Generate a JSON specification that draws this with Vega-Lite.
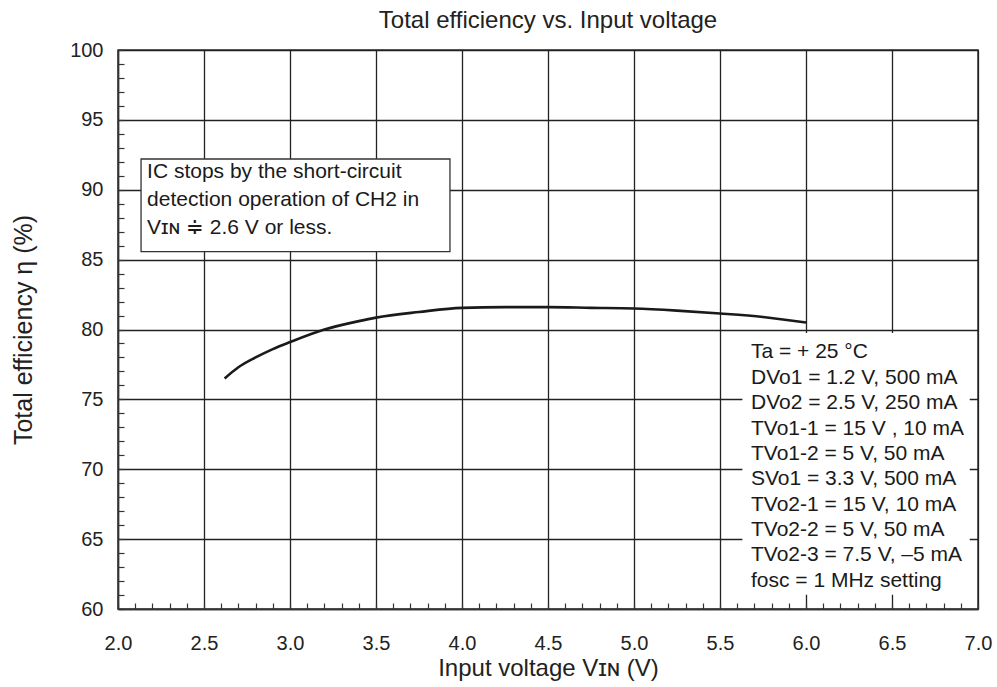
{
  "$schema": "https://vega.github.io/schema/vega-lite/v6.json",
  "width": 860,
  "height": 559,
  "autosize": "none",
  "padding": {"left": 118, "top": 50, "right": 19, "bottom": 78},
  "background": "white",
  "config": {
    "font": "Liberation Sans",
    "view": {"stroke": "#333333", "strokeWidth": 1.5},
    "axis": {
      "domainColor": "#333333",
      "domainWidth": 1.5,
      "gridColor": "#222222",
      "gridWidth": 1.3,
      "tickColor": "#333333",
      "tickWidth": 1.2,
      "labelFont": "Liberation Sans",
      "labelFontSize": 20,
      "labelColor": "#222222",
      "titleFont": "Liberation Sans",
      "titleFontWeight": "normal",
      "titleColor": "#222222"
    }
  },
  "title": {
    "text": "Total efficiency vs. Input voltage",
    "font": "Liberation Sans",
    "fontSize": 24,
    "fontWeight": "normal",
    "color": "#222222",
    "anchor": "middle",
    "offset": 7
  },
  "datasets": {
    "curve": [
      {"vin": 2.62, "eff": 76.5},
      {"vin": 2.7, "eff": 77.3},
      {"vin": 2.8, "eff": 78.0},
      {"vin": 2.9, "eff": 78.6},
      {"vin": 3.0, "eff": 79.1},
      {"vin": 3.2, "eff": 80.0},
      {"vin": 3.4, "eff": 80.6},
      {"vin": 3.5, "eff": 80.85},
      {"vin": 3.75, "eff": 81.25},
      {"vin": 4.0, "eff": 81.55},
      {"vin": 4.25, "eff": 81.6},
      {"vin": 4.5, "eff": 81.6},
      {"vin": 4.75, "eff": 81.55},
      {"vin": 5.0, "eff": 81.5},
      {"vin": 5.25, "eff": 81.35},
      {"vin": 5.5, "eff": 81.15},
      {"vin": 5.75, "eff": 80.9},
      {"vin": 6.0, "eff": 80.5}
    ],
    "boxes": [
      {"x1": 2.134, "x2": 3.93, "y1": 85.57, "y2": 92.2, "edge": "#333333"},
      {"x1": 5.634, "x2": 6.948, "y1": 61.07, "y2": 79.71, "edge": "white"}
    ],
    "notes": [
      {"x": 2.169, "y": 91.29, "text": "IC stops by the short-circuit"},
      {"x": 2.169, "y": 89.29, "text": "detection operation of CH2 in"},
      {"x": 2.169, "y": 87.29, "text": "Vɪɴ ≑ 2.6 V or less."},
      {"x": 5.68, "y": 78.36, "text": "Ta = + 25 °C"},
      {"x": 5.68, "y": 76.54, "text": "DVo1 = 1.2 V, 500 mA"},
      {"x": 5.68, "y": 74.73, "text": "DVo2 = 2.5 V, 250 mA"},
      {"x": 5.68, "y": 72.91, "text": "TVo1-1 = 15 V , 10 mA"},
      {"x": 5.68, "y": 71.10, "text": "TVo1-2 = 5 V, 50 mA"},
      {"x": 5.68, "y": 69.29, "text": "SVo1 = 3.3 V, 500 mA"},
      {"x": 5.68, "y": 67.47, "text": "TVo2-1 = 15 V, 10 mA"},
      {"x": 5.68, "y": 65.66, "text": "TVo2-2 = 5 V, 50 mA"},
      {"x": 5.68, "y": 63.84, "text": "TVo2-3 = 7.5 V, –5 mA"},
      {"x": 5.68, "y": 62.03, "text": "fosc = 1 MHz setting"}
    ]
  },
  "layer": [
    {
      "data": {"name": "curve"},
      "mark": {"type": "line", "interpolate": "monotone", "color": "#1a1a1a", "strokeWidth": 2.6},
      "encoding": {
        "x": {
          "field": "vin",
          "type": "quantitative",
          "scale": {"domain": [2, 7], "nice": false, "zero": false},
          "axis": {
            "title": "Input voltage Vɪɴ (V)",
            "titleFontSize": 24,
            "titlePadding": 3,
            "tickCount": 200,
            "values": [2.0, 2.1, 2.2, 2.3, 2.4, 2.5, 2.6, 2.7, 2.8, 2.9, 3.0, 3.1, 3.2, 3.3, 3.4, 3.5, 3.6, 3.7, 3.8, 3.9, 4.0, 4.1, 4.2, 4.3, 4.4, 4.5, 4.6, 4.7, 4.8, 4.9, 5.0, 5.1, 5.2, 5.3, 5.4, 5.5, 5.6, 5.7, 5.8, 5.9, 6.0, 6.1, 6.2, 6.3, 6.4, 6.5, 6.6, 6.7, 6.8, 6.9, 7.0],
            "labelExpr": "abs(datum.value * 2 - round(datum.value * 2)) < 0.001 ? format(datum.value, '.1f') : ''",
            "grid": true,
            "gridOpacity": {"condition": {"test": "abs(datum.value * 2 - round(datum.value * 2)) < 0.001", "value": 1}, "value": 0},
            "tickSize": -6,
            "labelPadding": 30,
            "labelOverlap": false,
            "labelFlush": false
          }
        },
        "y": {
          "field": "eff",
          "type": "quantitative",
          "scale": {"domain": [60, 100], "nice": false, "zero": false},
          "axis": {
            "title": "Total efficiency η (%)",
            "titleFontSize": 25,
            "titlePadding": 33,
            "tickCount": 200,
            "values": [60, 61, 62, 63, 64, 65, 66, 67, 68, 69, 70, 71, 72, 73, 74, 75, 76, 77, 78, 79, 80, 81, 82, 83, 84, 85, 86, 87, 88, 89, 90, 91, 92, 93, 94, 95, 96, 97, 98, 99, 100],
            "labelExpr": "datum.value % 5 == 0 ? format(datum.value, 'd') : ''",
            "grid": true,
            "gridOpacity": {"condition": {"test": "datum.value % 5 == 0", "value": 1}, "value": 0},
            "tickSize": -6,
            "labelPadding": 21,
            "labelOverlap": false,
            "labelFlush": false
          }
        }
      }
    },
    {
      "data": {"name": "boxes"},
      "mark": {"type": "rect", "fill": "white", "strokeWidth": 1.3},
      "encoding": {
        "x": {"field": "x1", "type": "quantitative"},
        "x2": {"field": "x2"},
        "y": {"field": "y1", "type": "quantitative"},
        "y2": {"field": "y2"},
        "stroke": {"field": "edge", "type": "nominal", "scale": null}
      }
    },
    {
      "data": {"name": "notes"},
      "mark": {"type": "text", "align": "left", "baseline": "middle", "fontSize": 21, "color": "#1a1a1a", "font": "Liberation Sans"},
      "encoding": {
        "x": {"field": "x", "type": "quantitative"},
        "y": {"field": "y", "type": "quantitative"},
        "text": {"field": "text"}
      }
    }
  ]
}
